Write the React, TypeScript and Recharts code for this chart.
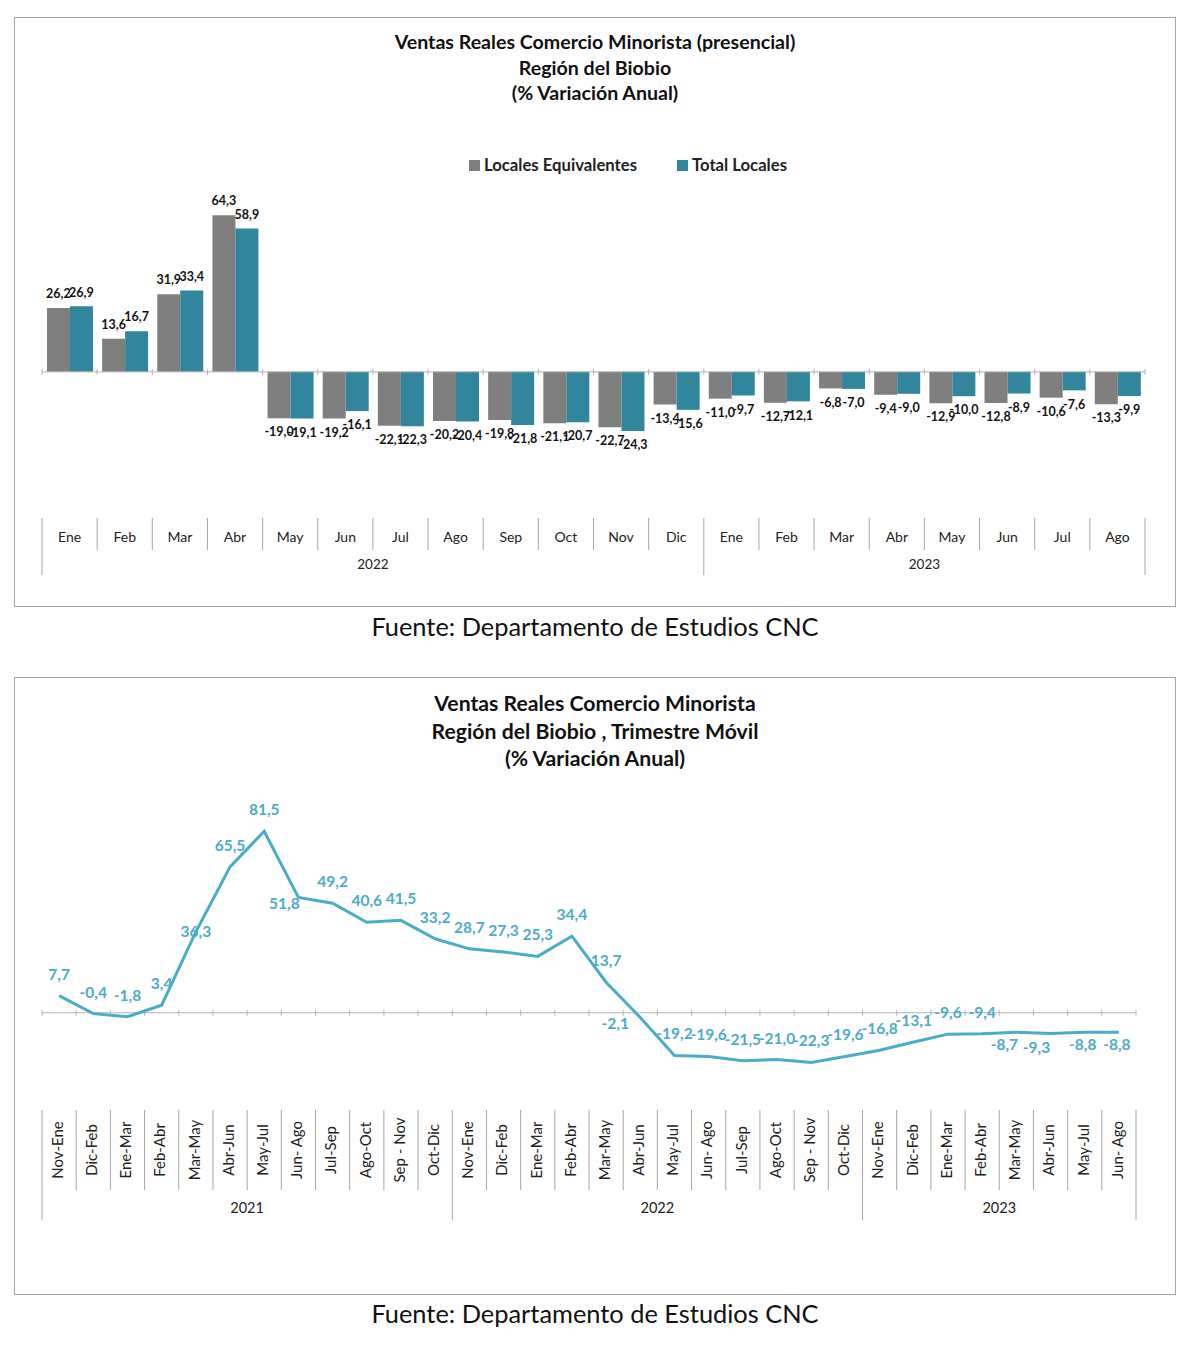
import React from 'react';
import { BarChart, Bar, LineChart, Line, XAxis, YAxis, ReferenceLine, LabelList, Legend } from 'recharts';

// ---- monthly chart (2022-2023) ----
const MONTHS = ['Ene', 'Feb', 'Mar', 'Abr', 'May', 'Jun', 'Jul', 'Ago', 'Sep', 'Oct', 'Nov', 'Dic', 'Ene', 'Feb', 'Mar', 'Abr', 'May', 'Jun', 'Jul', 'Ago'];
const LOCALES_EQUIV = [26.2, 13.6, 31.9, 64.3, -19.0, -19.2, -22.1, -20.2, -19.8, -21.1, -22.7, -13.4, -11.0, -12.7, -6.8, -9.4, -12.9, -12.8, -10.6, -13.3];
const TOTAL_LOCALES = [26.9, 16.7, 33.4, 58.9, -19.1, -16.1, -22.3, -20.4, -21.8, -20.7, -24.3, -15.6, -9.7, -12.1, -7.0, -9.0, -10.0, -8.9, -7.6, -9.9];
const BAR_YEARS: [string, number][] = [['2022', 12], ['2023', 8]];

// ---- moving quarter chart (2021-2023) ----
const PERIODS = [
  'Nov-Ene', 'Dic-Feb', 'Ene-Mar', 'Feb-Abr', 'Mar-May', 'Abr-Jun', 'May-Jul', 'Jun- Ago', 'Jul-Sep', 'Ago-Oct', 'Sep - Nov', 'Oct-Dic',
  'Nov-Ene', 'Dic-Feb', 'Ene-Mar', 'Feb-Abr', 'Mar-May', 'Abr-Jun', 'May-Jul', 'Jun- Ago', 'Jul-Sep', 'Ago-Oct', 'Sep - Nov', 'Oct-Dic',
  'Nov-Ene', 'Dic-Feb', 'Ene-Mar', 'Feb-Abr', 'Mar-May', 'Abr-Jun', 'May-Jul', 'Jun- Ago',
];
const TRIMESTRE = [
  7.7, -0.4, -1.8, 3.4, 36.3, 65.5, 81.5, 51.8, 49.2, 40.6, 41.5, 33.2,
  28.7, 27.3, 25.3, 34.4, 13.7, -2.1, -19.2, -19.6, -21.5, -21.0, -22.3, -19.6,
  -16.8, -13.1, -9.6, -9.4, -8.7, -9.3, -8.8, -8.8,
];
const LINE_YEARS: [string, number][] = [['2021', 12], ['2022', 12], ['2023', 8]];

const barData = MONTHS.map((m, i) => ({ i, month: m, equiv: LOCALES_EQUIV[i], total: TOTAL_LOCALES[i] }));
const lineData = PERIODS.map((p, i) => ({ i, period: p, value: TRIMESTRE[i] }));

const GRAY = '#7f7f7f';
const TEAL = '#31859c';
const AQUA = '#4bacc6';
const SEP = '#a6a6a6';
const FONT = 'Lato, "Open Sans", sans-serif';

const BAR_W = 1162;
const BAR_MARGIN = { top: 37, right: 31, bottom: 2, left: 28 };
const BAR_BAND = (BAR_W - BAR_MARGIN.left - BAR_MARGIN.right) / MONTHS.length;

const LINE_W = 1162;
const LINE_MARGIN = { top: 10, right: 40, bottom: 10, left: 28 };
const LINE_BAND = (LINE_W - LINE_MARGIN.left - LINE_MARGIN.right) / PERIODS.length;

const fmt = (v: number) => v.toFixed(1).replace('.', ',');

function yearStarting(years: [string, number][], i: number) {
  let s = 0;
  for (const [label, span] of years) {
    if (i === s) return { label, span };
    s += span;
  }
  return null;
}

// zero line with little ticks at category boundaries
const zeroShape = (n: number) => (props: any) => {
  const { x1, x2, y1 } = props;
  const step = (x2 - x1) / n;
  return (
    <g>
      <line x1={x1} y1={y1} x2={x2} y2={y1} stroke="#b3b3b3" strokeWidth={1} />
      {Array.from({ length: n + 1 }, (_, k) => (
        <line key={k} x1={x1 + k * step} x2={x1 + k * step} y1={y1 - 3} y2={y1 + 3} stroke="#b3b3b3" strokeWidth={1} />
      ))}
    </g>
  );
};

const BarTick = ({ x, y, payload }: any) => {
  const i = Number(payload.value);
  const half = BAR_BAND / 2;
  const yr = yearStarting(BAR_YEARS, i);
  const last = i === MONTHS.length - 1;
  return (
    <g>
      <line x1={x - half} x2={x - half} y1={y} y2={y + (yr ? 57 : 32)} stroke={SEP} />
      {last && <line x1={x + half} x2={x + half} y1={y} y2={y + 57} stroke={SEP} />}
      <text x={x} y={y + 20} textAnchor="middle" dominantBaseline="middle" fontSize={14} fill="#222" fontFamily={FONT}>
        {MONTHS[i]}
      </text>
      {yr && (
        <text x={x - half + (yr.span * BAR_BAND) / 2} y={y + 48} textAnchor="middle" dominantBaseline="middle" fontSize={13.5} fill="#222" fontFamily={FONT}>
          {yr.label}
        </text>
      )}
    </g>
  );
};

const LineTick = ({ x, y, payload }: any) => {
  const i = Number(payload.value);
  const half = LINE_BAND / 2;
  const yr = yearStarting(LINE_YEARS, i);
  const last = i === PERIODS.length - 1;
  return (
    <g>
      <line x1={x - half} x2={x - half} y1={y - 3} y2={y + (yr ? 107 : 77)} stroke={SEP} />
      {last && <line x1={x + half} x2={x + half} y1={y - 3} y2={y + 107} stroke={SEP} />}
      <text
        x={x}
        y={y + 37}
        transform={`rotate(-90 ${x} ${y + 37})`}
        textAnchor="middle"
        dominantBaseline="middle"
        fontSize={15}
        fill="#222"
        fontFamily={FONT}
      >
        {PERIODS[i]}
      </text>
      {yr && (
        <text x={x - half + (yr.span * LINE_BAND) / 2} y={y + 96} textAnchor="middle" dominantBaseline="middle" fontSize={14.5} fill="#222" fontFamily={FONT}>
          {yr.label}
        </text>
      )}
    </g>
  );
};

const BarValueLabel = (props: any) => {
  const { x, y, width, height, value } = props;
  const top = Math.min(y, y + height);
  const bottom = Math.max(y, y + height);
  const cx = x + width / 2;
  const ty = value >= 0 ? top - 13 : bottom + 15;
  return (
    <text x={cx} y={ty} textAnchor="middle" dominantBaseline="middle" fontSize={12.5} fontWeight={700} fill="#111" fontFamily={FONT}>
      {fmt(value)}
    </text>
  );
};

// label placement tweaks for the line chart (index -> offset)
const LINE_LABEL_OFFSET: Record<number, [number, number]> = {
  4: [0, 1],
  7: [-14, 8],
  17: [-25, 8],
  28: [-12, 14],
  29: [-14, 16],
  30: [-2, 14],
  31: [-2, 14],
};

const LineValueLabel = (props: any) => {
  const { x, y, value, index } = props;
  const [dx, dy] = LINE_LABEL_OFFSET[index] || [0, -20];
  return (
    <text x={x + dx} y={y + dy} textAnchor="middle" dominantBaseline="middle" fontSize={15.5} fontWeight={700} fill={AQUA} fontFamily={FONT}>
      {fmt(value)}
    </text>
  );
};

const BarLegend = () => (
  <div style={{ display: 'flex', justifyContent: 'center', alignItems: 'center', gap: 40, fontFamily: FONT, fontWeight: 700, fontSize: 16.7, color: '#222' }}>
    <span style={{ display: 'flex', alignItems: 'center' }}>
      <span style={{ width: 11, height: 11, background: GRAY, marginRight: 4, display: 'inline-block' }} />
      Locales Equivalentes
    </span>
    <span style={{ display: 'flex', alignItems: 'center' }}>
      <span style={{ width: 11, height: 11, background: TEAL, marginRight: 4, display: 'inline-block' }} />
      Total Locales
    </span>
  </div>
);

const frame: React.CSSProperties = {
  position: 'absolute',
  left: 6,
  width: 1162,
  border: '1px solid #a6a6a6',
  boxSizing: 'border-box',
  background: '#fff',
};

const caption: React.CSSProperties = {
  position: 'absolute',
  left: 6,
  width: 1162,
  textAlign: 'center',
  fontFamily: FONT,
  fontSize: 25.4,
  lineHeight: '30px',
  color: '#111',
};

export default function App() {
  return (
    <div style={{ position: 'relative', width: 1184, height: 1334, fontFamily: FONT }}>
      {/* top chart */}
      <div style={{ ...frame, top: 9, height: 590 }} />
      <div style={{ position: 'absolute', left: 6, top: 21, width: 1162, textAlign: 'center', fontWeight: 700, fontSize: 19.6, lineHeight: '25.5px', color: '#111' }}>
        <div>Ventas Reales Comercio Minorista (presencial)</div>
        <div>Región del Biobio</div>
        <div>(% Variación Anual)</div>
      </div>
      <div style={{ position: 'absolute', left: 6, top: 132 }}>
        <BarChart width={BAR_W} height={440} data={barData} margin={BAR_MARGIN} barCategoryGap="9%" barGap={0}>
          <XAxis dataKey="i" type="category" interval={0} axisLine={false} tickLine={false} tickSize={0} tickMargin={0} height={60} tick={<BarTick />} />
          <YAxis hide domain={[-60, 80]} />
          <Legend verticalAlign="middle" align="center" wrapperStyle={{ top: 15, left: 33, width: BAR_W }} content={<BarLegend />} />
          <ReferenceLine y={0} shape={zeroShape(MONTHS.length)} />
          <Bar dataKey="equiv" name="Locales Equivalentes" fill={GRAY} isAnimationActive={false}>
            <LabelList dataKey="equiv" content={<BarValueLabel />} />
          </Bar>
          <Bar dataKey="total" name="Total Locales" fill={TEAL} isAnimationActive={false}>
            <LabelList dataKey="total" content={<BarValueLabel />} />
          </Bar>
        </BarChart>
      </div>
      <div style={{ ...caption, top: 603 }}>Fuente: Departamento de Estudios CNC</div>

      {/* bottom chart */}
      <div style={{ ...frame, top: 669, height: 618 }} />
      <div style={{ position: 'absolute', left: 6, top: 682, width: 1162, textAlign: 'center', fontWeight: 700, fontSize: 21.2, lineHeight: '27.5px', color: '#111' }}>
        <div>Ventas Reales Comercio Minorista</div>
        <div>Región del Biobio , Trimestre Móvil</div>
        <div>(% Variación Anual)</div>
      </div>
      <div style={{ position: 'absolute', left: 6, top: 772 }}>
        <LineChart width={LINE_W} height={453} data={lineData} margin={LINE_MARGIN}>
          <XAxis
            dataKey="i"
            type="category"
            interval={0}
            axisLine={false}
            tickLine={false}
            tickSize={0}
            tickMargin={0}
            height={110}
            padding={{ left: LINE_BAND / 2, right: LINE_BAND / 2 }}
            tick={<LineTick />}
          />
          <YAxis hide domain={[-45, 100]} />
          <ReferenceLine y={0} shape={zeroShape(PERIODS.length)} />
          <Line type="linear" dataKey="value" stroke={AQUA} strokeWidth={3} dot={false} isAnimationActive={false}>
            <LabelList dataKey="value" content={<LineValueLabel />} />
          </Line>
        </LineChart>
      </div>
      <div style={{ ...caption, top: 1290 }}>Fuente: Departamento de Estudios CNC</div>
    </div>
  );
}
